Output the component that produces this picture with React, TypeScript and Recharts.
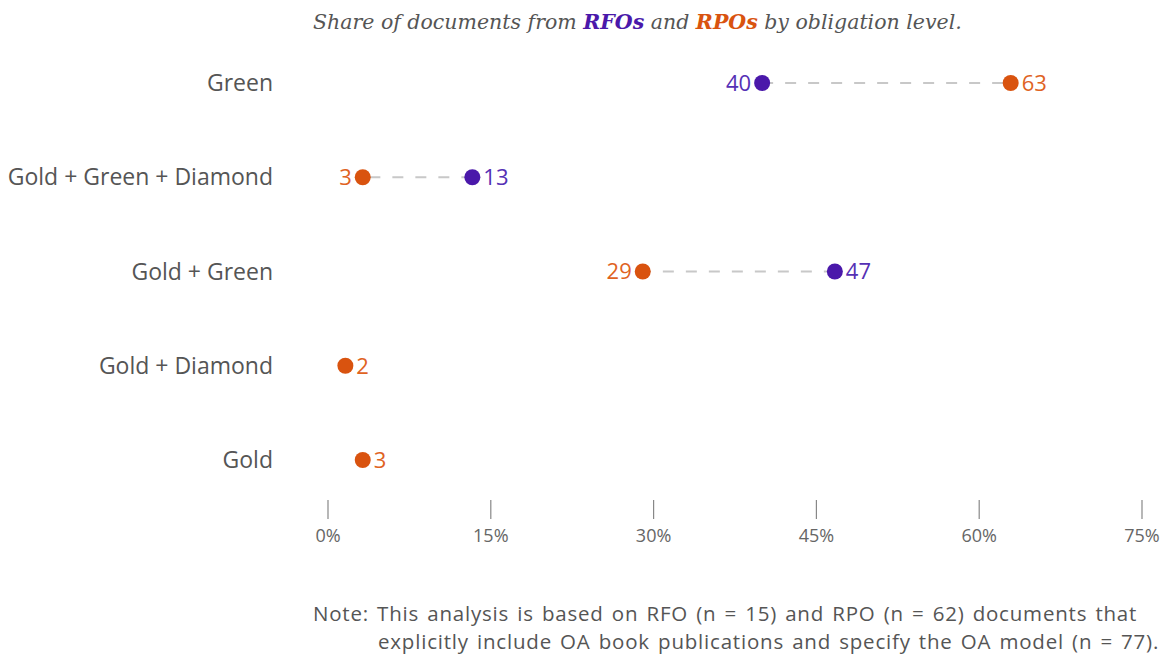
import React from "react";
import { ComposedChart, Line, XAxis, YAxis, ReferenceLine } from "recharts";

const categories = ["Green", "Gold + Green + Diamond", "Gold + Green", "Gold + Diamond", "Gold"];
// share of documents (%), RFO n = 15, RPO n = 62
const rfoShare: (number | null)[] = [40, 13.3, 46.7, null, null];
const rpoShare: (number | null)[] = [62.9, 3.2, 29.0, 1.6, 3.2];
const xTicks = [0, 15, 30, 45, 60, 75];

const RFO_COLOR = "#4a18aa";
const RPO_COLOR = "#d9530f";
const RFO_TEXT = "#5530b5";
const RPO_TEXT = "#e0631f";
const SANS = "'Open Sans', 'Noto Sans', sans-serif";

const data = categories.map((name, i) => ({ name, rfo: rfoShare[i], rpo: rpoShare[i] }));

function makeDot(key: "rfo" | "rpo", fill: string, textFill: string) {
  const other = key === "rfo" ? "rpo" : "rfo";
  return (props: any) => {
    const { cx, cy, payload, index } = props;
    if (typeof cx !== "number" || typeof cy !== "number" || payload[key] == null) {
      return <g key={`${key}-${index}`} />;
    }
    const v = payload[key] as number;
    const o = payload[other] as number | null;
    const left = o != null && o > v;
    return (
      <g key={`${key}-${index}`}>
        <circle cx={cx} cy={cy} r={8} fill={fill} />
        <text
          x={left ? cx - 11 : cx + 11}
          y={cy}
          dy="0.36em"
          textAnchor={left ? "end" : "start"}
          fontSize={22}
          fontFamily={SANS}
          fill={textFill}
        >
          {Math.round(v)}
        </text>
      </g>
    );
  };
}

function XTick(props: any) {
  const { x, y, payload } = props;
  return (
    <g>
      <line x1={x} x2={x} y1={y - 7} y2={y + 12} stroke="#888" strokeWidth={1.2} />
      <text x={x} y={y + 35} textAnchor="middle" fontSize={18} fontFamily={SANS} fill="#666">
        {`${payload.value}%`}
      </text>
    </g>
  );
}

export default function App() {
  return (
    <div style={{ position: "absolute", left: 0, top: 0, width: 1176, height: 657, background: "#fff" }}>
      <div
        style={{
          position: "absolute",
          left: 313,
          top: 8,
          fontFamily: "'DejaVu Serif', serif",
          fontStyle: "italic",
          fontSize: 20.5,
          lineHeight: "28px",
          color: "#555",
          whiteSpace: "nowrap",
        }}
      >
        Share of documents from <b style={{ color: RFO_COLOR }}>RFOs</b> and{" "}
        <b style={{ color: RPO_COLOR }}>RPOs</b> by obligation level.
      </div>
      <ComposedChart
        width={1176}
        height={570}
        layout="vertical"
        data={data}
        margin={{ top: 36, right: 34, left: 0, bottom: 3 }}
      >
        <XAxis
          type="number"
          domain={[0, 75]}
          ticks={xTicks}
          axisLine={false}
          tickLine={false}
          tickSize={0}
          tickMargin={0}
          height={60}
          tick={<XTick />}
        />
        <YAxis
          type="category"
          dataKey="name"
          width={328}
          padding={{ top: 47, bottom: 47 }}
          axisLine={false}
          tickLine={false}
          tickSize={0}
          tickMargin={55}
          tick={{ fontSize: 23, fill: "#555", fontFamily: SANS }}
        />
        {data
          .filter((d) => d.rfo != null && d.rpo != null)
          .map((d) => (
            <ReferenceLine
              key={d.name}
              segment={[
                { x: d.rfo as number, y: d.name },
                { x: d.rpo as number, y: d.name },
              ]}
              stroke="#c8c8c8"
              strokeWidth={2}
              strokeDasharray="11 12"
            />
          ))}
        <Line
          dataKey="rfo"
          stroke="none"
          isAnimationActive={false}
          activeDot={false}
          dot={makeDot("rfo", RFO_COLOR, RFO_TEXT)}
        />
        <Line
          dataKey="rpo"
          stroke="none"
          isAnimationActive={false}
          activeDot={false}
          dot={makeDot("rpo", RPO_COLOR, RPO_TEXT)}
        />
      </ComposedChart>
      <div
        style={{
          position: "absolute",
          left: 313,
          top: 599,
          fontFamily: SANS,
          fontSize: 20.5,
          letterSpacing: 0.8,
          wordSpacing: 2,
          lineHeight: "28px",
          color: "#555",
          whiteSpace: "nowrap",
        }}
      >
        <div>Note: This analysis is based on RFO (n = 15) and RPO (n = 62) documents that</div>
        <div style={{ paddingLeft: 65 }}>
          explicitly include OA book publications and specify the OA model (n = 77).
        </div>
      </div>
    </div>
  );
}
